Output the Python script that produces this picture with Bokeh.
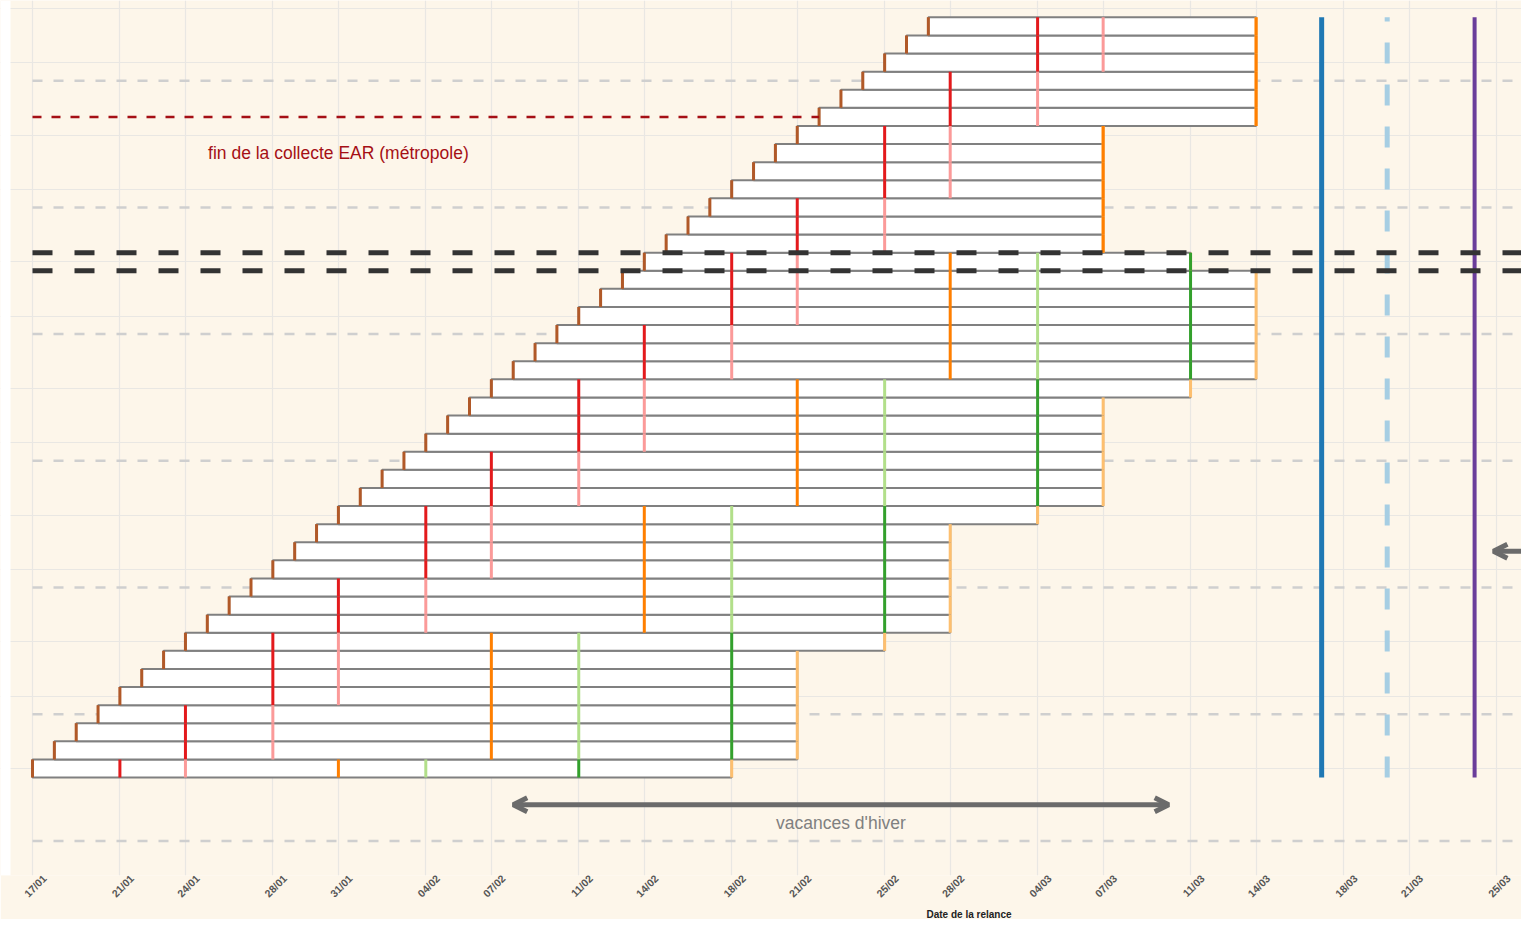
import math
import pandas as pd
from bokeh.plotting import figure
from bokeh.models import (FixedTicker, DatetimeTickFormatter, Range1d, Label, Arrow,
                          OpenHead, ColumnDataSource, Title)
from bokeh.embed import file_html
from bokeh.resources import INLINE

YEAR = 2025

# ---------------- data (dd/mm, year 2025) ----------------
start_dates = ["17/01", "18/01", "19/01", "20/01", "21/01", "22/01", "23/01", "24/01",
               "25/01", "26/01", "27/01", "28/01", "29/01", "30/01", "31/01", "01/02",
               "02/02", "03/02", "04/02", "05/02", "06/02", "07/02", "08/02", "09/02",
               "10/02", "11/02", "12/02", "13/02", "14/02", "15/02", "16/02", "17/02",
               "18/02", "19/02", "20/02", "21/02", "22/02", "23/02", "24/02", "25/02",
               "26/02", "27/02"]

relance1 = (["21/01"] + ["24/01"] * 3 + ["28/01"] * 4 + ["31/01"] * 3 + ["04/02"] * 4 +
            ["07/02"] * 3 + ["11/02"] * 4 + ["14/02"] * 3 + ["18/02"] * 4 + ["21/02"] * 3 +
            ["25/02"] * 4 + ["28/02"] * 3 + ["04/03"] * 3)
relance2 = (["24/01"] + ["28/01"] * 3 + ["31/01"] * 4 + ["04/02"] * 3 + ["07/02"] * 4 +
            ["11/02"] * 3 + ["14/02"] * 4 + ["18/02"] * 3 + ["21/02"] * 4 + ["25/02"] * 3 +
            ["28/02"] * 4 + ["04/03"] * 3 + ["07/03"] * 3)
relance3 = (["31/01"] + ["07/02"] * 7 + ["14/02"] * 7 + ["21/02"] * 7 + ["28/02"] * 7 +
            ["07/03"] * 7 + ["14/03"] * 6)
relance4 = (["04/02"] + ["11/02"] * 7 + ["18/02"] * 7 + ["25/02"] * 7 + ["04/03"] * 7 +
            [None] * 13)
relance5 = (["11/02"] + ["18/02"] * 7 + ["25/02"] * 7 + ["04/03"] * 7 + ["11/03"] * 7 +
            [None] * 13)
fin_dates = (["18/02"] + ["21/02"] * 6 + ["25/02"] + ["28/02"] * 6 + ["04/03"] +
             ["07/03"] * 6 + ["11/03"] + ["14/03"] * 6 + ["11/03"] + ["07/03"] * 7 +
             ["14/03"] * 6)

tick_labels = ["17/01", "21/01", "24/01", "28/01", "31/01", "04/02", "07/02", "11/02",
               "14/02", "18/02", "21/02", "25/02", "28/02", "04/03", "07/03", "11/03",
               "14/03", "18/03", "21/03", "25/03"]
monday_lines = ["13/01", "20/01", "27/01", "03/02", "10/02", "17/02", "24/02"]
highlight_row = "14/02"
fin_collecte = "22/02"
vline_dates = ["17/03", "20/03", "24/03"]
vacances = ["08/02", "10/03"]

# ---------------- helpers ----------------
DAY = 86400000.0
HALF = DAY / 2


def ms(s, off=0.0):
    d, m = s.split("/")
    return pd.Timestamp(year=YEAR, month=int(m), day=int(d)).value / 1e6 + off * DAY


t0 = ms(start_dates[0])
t_last = ms(start_dates[-1])
far_right = t0 + 80 * DAY

BG = "#fdf6ea"
GRID = "#e9e7e3"
PAIRED = {
    "brown": "#b15928", "red": "#e31a1c", "pink": "#fb9a99", "orange": "#ff7f00",
    "lgreen": "#b2df8a", "green": "#33a02c", "lorange": "#fdbf6f",
    "blue": "#1f78b4", "lblue": "#a6cee3", "purple": "#6a3d9a",
}

PX_DAY = 21.85          # horizontal pixels per day
X0 = t0 - (32 / PX_DAY) * DAY
X1 = t0 + ((1521 - 32) / PX_DAY) * DAY
ROW = 18.1              # vertical pixels per row
FRAME_H = 875           # frame height left once the axis + title are laid out
Y1 = t0 + (768 / ROW) * DAY
Y0 = t0 - ((FRAME_H - 768) / ROW) * DAY

p = figure(width=1521, height=919, x_axis_type="datetime", y_axis_type="datetime",
           x_range=Range1d(X0, X1), y_range=Range1d(Y0, Y1),
           output_backend="svg", toolbar_location=None,
           min_border_left=0, min_border_right=0, min_border_top=0, min_border_bottom=37,
           background_fill_color=BG, border_fill_color=BG, outline_line_color=None)

ticks_ms = [ms(t) for t in tick_labels]
# labels are nudged so that their centre sits on the date
p.xaxis.ticker = FixedTicker(ticks=[t + 0.55 * DAY for t in ticks_ms])
p.xaxis.formatter = DatetimeTickFormatter(days="%d/%m", months="%d/%m", years="%d/%m",
                                          hours="%d/%m", minutes="%d/%m")
p.xaxis.major_label_orientation = math.pi / 4
p.xaxis.major_label_text_font = "Liberation Sans"
p.xaxis.major_label_text_font_style = "bold"
p.xaxis.major_label_text_font_size = "10.5px"
p.xaxis.major_label_text_color = "#555555"
p.xaxis.major_label_standoff = 1
p.xaxis.axis_line_color = None
p.xaxis.major_tick_line_color = None
p.xaxis.major_tick_out = 0
p.xaxis.major_tick_in = 0
p.xaxis.minor_tick_line_color = None
p.yaxis.visible = False

p.add_layout(Title(text="Date de la relance", align="left", offset=926, standoff=0,
                   text_font="Liberation Sans", text_font_style="bold",
                   text_font_size="10px", text_color="#222222"), "below")

p.xgrid.ticker = FixedTicker(ticks=ticks_ms)
p.ygrid.ticker = FixedTicker(ticks=ticks_ms)
p.grid.grid_line_color = GRID
p.grid.grid_line_width = 1.2

# white margin strip on the left of the panel
p.quad(left=[X0], right=[t0 - (22 / PX_DAY) * DAY], bottom=[Y0], top=[Y1],
       fill_color="white", line_color=None)

# Monday separator dashed lines
p.segment(x0=[t0] * len(monday_lines), x1=[far_right] * len(monday_lines),
          y0=[ms(m) for m in monday_lines], y1=[ms(m) for m in monday_lines],
          line_color="#cfcfcf", line_width=2.5, line_dash="10 11")

# bars
ys = [ms(s) for s in start_dates]
bars = ColumnDataSource(dict(left=ys, right=[ms(f) for f in fin_dates],
                             bottom=[y - HALF for y in ys], top=[y + HALF for y in ys]))
p.quad(left="left", right="right", bottom="bottom", top="top", source=bars,
       fill_color="white", line_color="#808080", line_width=2)


def ticks(dates, color, width=3):
    xs, y0, y1 = [], [], []
    for d, y in zip(dates, ys):
        if d is None:
            continue
        xs.append(ms(d))
        y0.append(y - HALF)
        y1.append(y + HALF)
    p.segment(x0=xs, x1=xs, y0=y0, y1=y1, line_color=color, line_width=width)


ticks(fin_dates, PAIRED["lorange"])
ticks(start_dates, PAIRED["brown"])
ticks(relance1, PAIRED["red"])
ticks(relance2, PAIRED["pink"])
ticks(relance3, PAIRED["orange"])
ticks(relance4, PAIRED["lgreen"])
ticks(relance5, PAIRED["green"])

# vertical reference lines
v_colors = [PAIRED["blue"], PAIRED["lblue"], PAIRED["purple"]]
v_dash = ["solid", "21 21", "solid"]
v_width = [5, 5, 4]
for d, c, dash, w in zip(vline_dates, v_colors, v_dash, v_width):
    p.segment(x0=[ms(d)], x1=[ms(d)], y0=[t0 - HALF], y1=[t_last + HALF],
              line_color=c, line_width=w, line_dash=dash)

# highlighted row (black dashed lines)
yh = ms(highlight_row)
p.segment(x0=[t0, t0], x1=[far_right, far_right], y0=[yh - HALF, yh + HALF],
          y1=[yh - HALF, yh + HALF], line_color="#333333", line_width=5, line_dash="20 22")

# end of collection line
yf = ms(fin_collecte)
p.segment(x0=[t0], x1=[yf], y0=[yf], y1=[yf], line_color="#a50f15", line_width=2.5,
          line_dash="9 10")
p.add_layout(Label(x=ms("31/01"), y=ms("20/02"), text="fin de la collecte EAR (métropole)",
                   text_align="center", text_baseline="middle", text_color="#a50f15",
                   text_font="Liberation Sans", text_font_size="17.5px"))

# winter holidays arrow
yv = ms("15/01")
p.add_layout(Arrow(x_start=ms(vacances[0]), x_end=ms(vacances[1]), y_start=yv, y_end=yv,
                   line_color="#6b6b6b", line_width=5,
                   start=OpenHead(size=14, line_color="#6b6b6b", line_width=5),
                   end=OpenHead(size=14, line_color="#6b6b6b", line_width=5)))
p.add_layout(Label(x=ms("23/02"), y=ms("14/01"), text="vacances d'hiver",
                   text_align="center", text_baseline="middle", text_color="#808080",
                   text_font="Liberation Sans", text_font_size="17.5px"))

# arrow coming from the right
ya = ms("29/01")
p.add_layout(Arrow(x_start=ms("25/03", 4), x_end=ms("25/03", -0.14), y_start=ya, y_end=ya,
                   line_color="#6b6b6b", line_width=5,
                   end=OpenHead(size=14, line_color="#6b6b6b", line_width=5)))

open("out.html", "w").write(file_html(p, INLINE))
